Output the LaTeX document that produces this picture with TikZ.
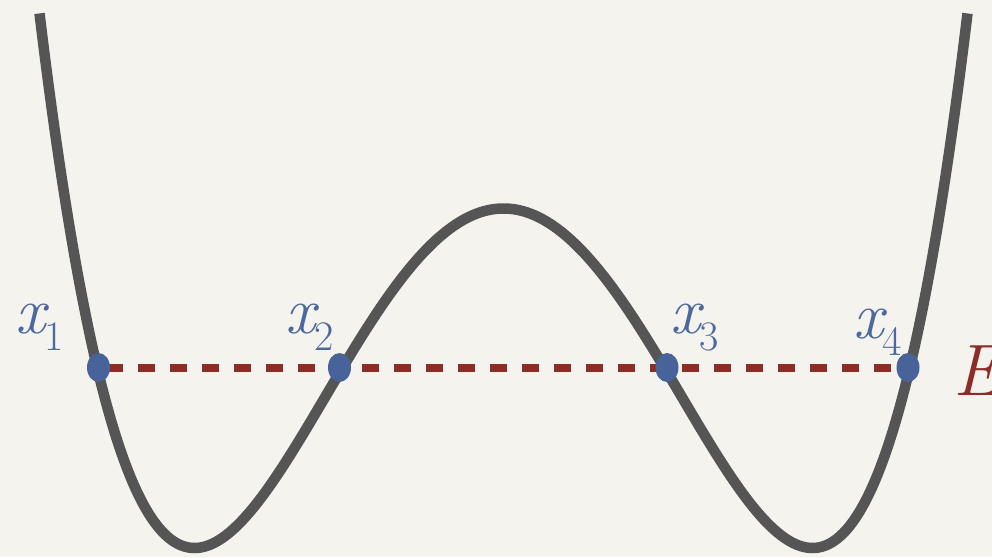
\documentclass[tikz,border=0pt]{standalone}
\usepackage{fontspec}
\usetikzlibrary{shapes.geometric}
\definecolor{bg}{RGB}{245,243,238}
\definecolor{curvegray}{RGB}{85,85,85}
\definecolor{dotblue}{RGB}{72,99,153}
\definecolor{labblue}{RGB}{76,104,158}
\definecolor{ered}{RGB}{140,45,40}
\newcommand\lx[1]{\fontsize{67}{67}\selectfont\itshape x\kern-1pt\raisebox{-17pt}{\fontsize{42}{42}\selectfont\upshape #1}}
\tikzset{
  curve/.style={line width=10.5pt, draw=curvegray, line cap=butt},
  level/.style={line width=8pt, draw=ered, dash pattern=on 16.5pt off 15.5pt, dash phase=24.5pt},
  dot/.style={ellipse, fill=dotblue, minimum width=23pt, minimum height=29pt, inner sep=0pt},
  lab/.style={anchor=base west, inner sep=0pt, text=labblue}
}
\begin{document}
\begin{tikzpicture}[x=1pt,y=-1pt]
\fill[bg] (0,0) rectangle (992,557);
\useasboundingbox (0,0) rectangle (992,557);
\draw[curve] plot[domain=-464:464, samples=300, smooth] ({503.5+\x},{548-339.5*(1-(\x/309)^2)^2});
\coordinate (c1) at (98.5,367.5);
\coordinate (c2) at (339.5,367.5);
\coordinate (c3) at (667,367.5);
\coordinate (c4) at (908,367.5);
\draw[level] (c1) -- (c4);
\node[dot] (p1) at (c1) {};
\node[dot] (p2) at (c2) {};
\node[dot] (p3) at (c3) {};
\node[dot] (p4) at (c4) {};
\node[lab] (l1) at (15,333) {\lx{1}};
\node[lab] (l2) at (285,333) {\lx{2}};
\node[lab] (l3) at (670,333) {\lx{3}};
\node[lab] (l4) at (853,338) {\lx{4}};
\node[anchor=base west, inner sep=0pt, text=ered] (E) at (953,395) {\fontsize{73}{73}\selectfont\itshape E};
\end{tikzpicture}
\end{document}
